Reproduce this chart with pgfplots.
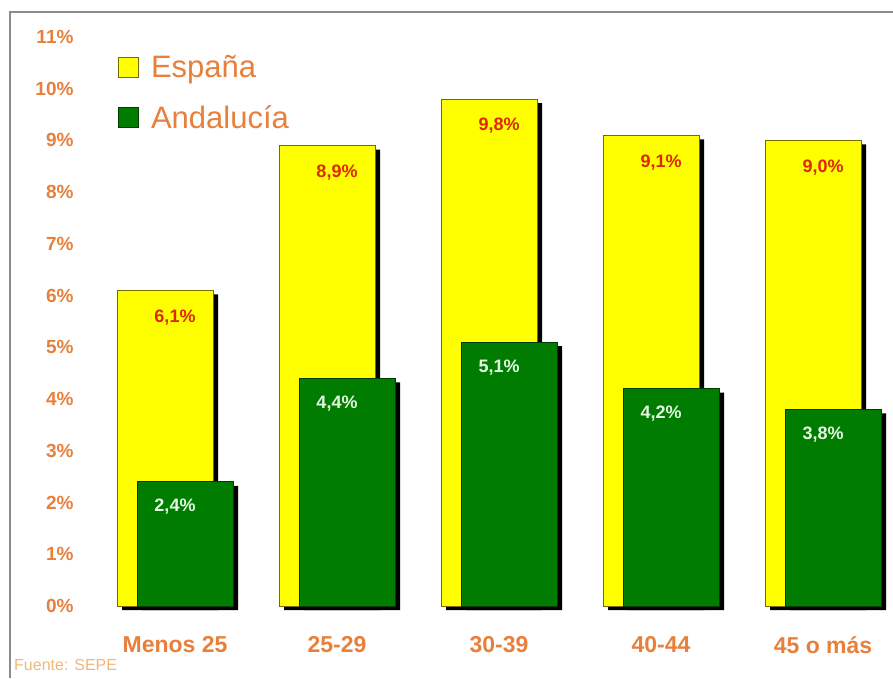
\documentclass[border=0pt]{standalone}
\usepackage{pgfplots}
\pgfplotsset{compat=1.18}
\usepackage{pgfplotstable}
\usepackage{fontspec}
\setmainfont{Liberation Sans}
\definecolor{tickor}{RGB}{232,128,60}
\definecolor{valred}{RGB}{222,40,0}
\definecolor{barY}{RGB}{255,255,0}
\definecolor{barYd}{RGB}{120,105,0}
\definecolor{barG}{RGB}{0,125,0}
\definecolor{barGd}{RGB}{0,60,0}
\definecolor{valwhite}{RGB}{228,248,225}
\definecolor{fuente}{RGB}{240,185,120}
\pgfplotstableread{
x Esp And
0 6.1 2.4
1 8.9 4.4
2 9.8 5.1
3 9.1 4.2
4 9.0 3.8
}\datatable
\begin{document}
\begin{tikzpicture}[x=1pt,y=1pt]
\path[use as bounding box] (0,0) rectangle (893,678);
\fill[white] (0,0) rectangle (893,678);
\draw[black!45, line width=1.6pt] (10,0) -- (10,666) -- (893,666);
\begin{axis}[
  at={(90pt,72pt)}, anchor=south west,
  scale only axis, width=803pt, height=569pt,
  xmin=-0.5247, xmax=4.432, ymin=0, ymax=11,
  axis line style={draw=none},
  major tick length=0pt,
  xtick=data,
  xticklabels={Menos 25,25-29,30-39,40-44,45 o más},
  ytick={0,1,...,11},
  yticklabel={\pgfmathprintnumber{\tick}\%},
  /pgf/number format/assume math mode=true,
  xticklabel style={font=\fontsize{23}{26}\selectfont\bfseries, text=tickor, yshift=-27pt},
  yticklabel style={font=\fontsize{19}{22}\selectfont\bfseries, text=tickor, xshift=-13pt},
  legend image code/.code={\draw[#1, line width=1.5pt] (0pt,-10pt) rectangle (20pt,10pt);},
  legend cell align=left,
  legend style={draw=none, fill=none, at={(axis description cs:0.034,0.971)}, anchor=north west,
    font=\fontsize{31}{36}\selectfont, text=tickor, row sep=22pt, column sep=10pt, inner sep=0pt},
  clip=false,
]
\addlegendimage{fill=barY, draw=barYd}
\addlegendentry{España}
\addlegendimage{fill=barG, draw=barGd}
\addlegendentry{Andalucía}
% España shadow + bars
\addplot[ybar, bar width=96pt, bar shift=-10pt, fill=black, draw=none, xshift=5pt, yshift=-4pt, forget plot] table[x=x,y=Esp]{\datatable};
\addplot[ybar, bar width=96pt, bar shift=-10pt, fill=barY, draw=barYd, line width=1pt, forget plot,
  nodes near coords={\pgfmathprintnumber[fixed,fixed zerofill,precision=1,use comma]{\pgfplotspointmeta}\%},
  every node near coord/.append style={anchor=center, yshift=-27pt, text=valred, font=\fontsize{18}{21}\selectfont\bfseries}
  ] table[x=x,y=Esp]{\datatable};
% Andalucía shadow + bars
\addplot[ybar, bar width=96pt, bar shift=10pt, fill=black, draw=none, xshift=5pt, yshift=-4pt, forget plot] table[x=x,y=And]{\datatable};
\addplot[ybar, bar width=96pt, bar shift=10pt, fill=barG, draw=barGd, line width=1pt, forget plot,
  nodes near coords={\pgfmathprintnumber[fixed,fixed zerofill,precision=1,use comma]{\pgfplotspointmeta}\%},
  every node near coord/.append style={anchor=center, yshift=-25pt, text=valwhite, font=\fontsize{18}{21}\selectfont\bfseries}
  ] table[x=x,y=And]{\datatable};
\end{axis}
\node[anchor=west, text=fuente, font=\fontsize{16}{18}\selectfont, inner sep=0pt] at (14,13) {Fuente: SEPE};
\end{tikzpicture}
\end{document}
